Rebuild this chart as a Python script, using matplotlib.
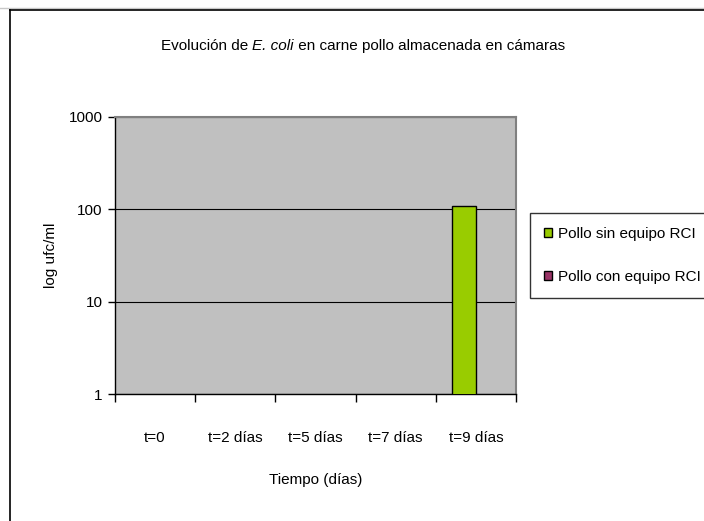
import matplotlib
matplotlib.use("Agg")
import matplotlib.pyplot as plt
import numpy as np
from matplotlib.lines import Line2D
from matplotlib.patches import Patch
from matplotlib.ticker import FixedLocator, FixedFormatter, NullFormatter, NullLocator
from matplotlib import font_manager

names = sorted({f.name for f in font_manager.fontManager.ttflist})
narrow = 'Liberation Sans Narrow' if 'Liberation Sans Narrow' in names else 'Liberation Sans'
plt.rcParams['font.family'] = [narrow, 'DejaVu Sans']
fs = 12 if narrow == 'Liberation Sans Narrow' else 11

###########
# DATA
###########
categories = ["t=0", "t=2 días", "t=5 días", "t=7 días", "t=9 días"]
sin_rci = [0, 0, 0, 0, 110]
con_rci = [0, 0, 0, 0, 0]
series_names = ["Pollo sin equipo RCI", "Pollo con equipo RCI"]
y_ticks = [1, 10, 100, 1000]

green = '#99CC00'
purple = '#993366'
plot_grey = '#C0C0C0'

###########
# GRAPH
###########
W, H = 704, 521
fig = plt.figure(figsize=(W / 100, H / 100), dpi=100)
ax = fig.add_axes([115 / W, 1 - 394 / H, (516 - 115) / W, (394 - 117) / H])
ax.set_facecolor(plot_grey)

x = np.arange(len(categories))
w = 0.3
ax.bar(x - w / 2, sin_rci, width=w, color=green, edgecolor='black', linewidth=1, zorder=3)
ax.bar(x + w / 2, con_rci, width=w, color=purple, edgecolor='black', linewidth=1, zorder=3)

ax.set_yscale('log')
ax.set_ylim(1, 1000)
ax.set_xlim(-0.5, len(categories) - 0.5)

ax.yaxis.set_major_locator(FixedLocator(y_ticks))
ax.yaxis.set_major_formatter(FixedFormatter([str(t) for t in y_ticks]))
ax.yaxis.set_minor_locator(NullLocator())
ax.grid(axis='y', color='black', linewidth=0.8, zorder=1)
ax.set_axisbelow(True)

# category boundaries as ticks, labels in between
ax.xaxis.set_major_locator(FixedLocator(np.arange(-0.5, len(categories), 1.0)))
ax.xaxis.set_major_formatter(NullFormatter())
ax.set_xticks(x, categories, minor=True)
ax.tick_params(axis='x', which='major', direction='out', length=6, width=1, color='black')
ax.tick_params(axis='x', which='minor', length=0, pad=27, labelsize=fs)
ax.tick_params(axis='y', direction='out', length=5, width=1, pad=4, labelsize=fs)

for s in ['top', 'right']:
    ax.spines[s].set_color('#808080')
    ax.spines[s].set_linewidth(1.5)
for s in ['left', 'bottom']:
    ax.spines[s].set_color('black')
    ax.spines[s].set_linewidth(1)

ax.set_ylabel('log ufc/ml', fontsize=fs)
ax.yaxis.set_label_coords(-0.142, 0.5)
ax.set_xlabel('Tiempo (días)', fontsize=fs)
ax.xaxis.set_label_coords(0.5, -0.285)

# title with italic species name, centred as a whole
ty = 1 - 44 / H
t1 = fig.text(0, ty, 'Evolución de ', fontsize=fs, va='baseline', ha='left')
t2 = fig.text(0, ty, 'E. coli', fontsize=fs, style='italic', va='baseline', ha='left')
t3 = fig.text(0, ty, ' en carne pollo almacenada en cámaras', fontsize=fs, va='baseline', ha='left')
fig.canvas.draw()
r = fig.canvas.get_renderer()
w1 = t1.get_window_extent(r).width
w2 = t2.get_window_extent(r).width
w3 = t3.get_window_extent(r).width
x0 = 363 - (w1 + w2 + w3) / 2
ty = 1 - 50 / H
t1.set_position((x0 / W, ty))
t2.set_position(((x0 + w1) / W, ty))
t3.set_position(((x0 + w1 + w2) / W, ty))

# legend (runs to the right edge like the original)
handles = [Patch(facecolor=green, edgecolor='black', linewidth=1),
           Patch(facecolor=purple, edgecolor='black', linewidth=1)]
leg = fig.legend(handles, series_names, loc='upper left',
                 bbox_to_anchor=(530 / W, 1 - 213 / H),
                 fontsize=fs, frameon=True, fancybox=False, edgecolor='black',
                 handlelength=0.55, handleheight=0.55, handletextpad=0.4,
                 labelspacing=1.9, borderpad=0.9, borderaxespad=0)
leg.get_frame().set_linewidth(1)

# outer chart frame
fig.add_artist(Line2D([0, 1], [1 - 8 / H, 1 - 8 / H], color='#C8C8C8', linewidth=1))
fig.add_artist(Line2D([10 / W, 1], [1 - 10 / H, 1 - 10 / H], color='black', linewidth=1.2))
fig.add_artist(Line2D([10 / W, 10 / W], [0, 1 - 10 / H], color='black', linewidth=1.2))

plt.savefig('out.png', dpi=100)
plt.close(fig)
